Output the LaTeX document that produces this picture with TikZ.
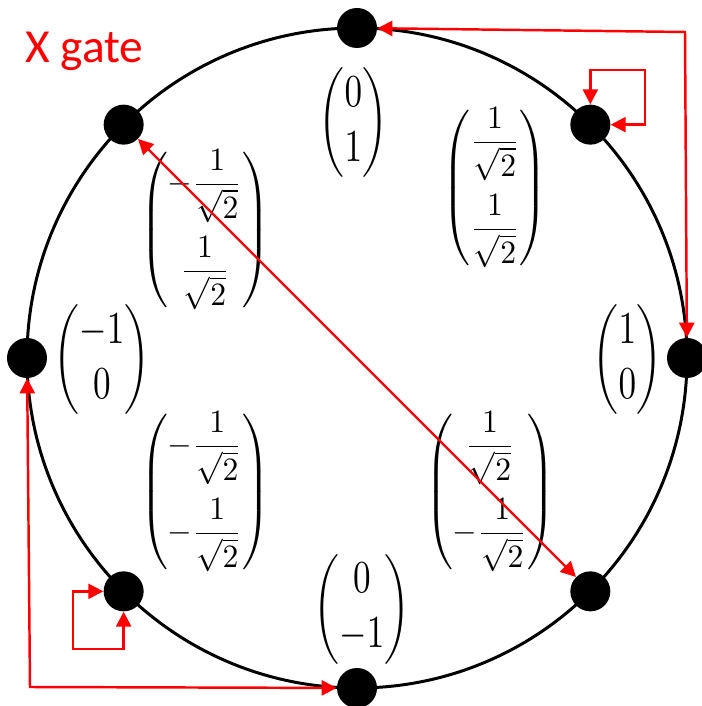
\documentclass[tikz,border=0pt]{standalone}
\usepackage{amsmath}
\usepackage{fontspec}
\newfontfamily\gatefont{Carlito}
\usetikzlibrary{arrows.meta, positioning, calc}

\begin{document}
\begin{tikzpicture}[
    dot/.style={circle, fill=black, inner sep=0pt, minimum size=0.8cm},
    ket/.style={xscale=2.0, yscale=2.6, inner sep=0pt},
    fracket/.style={xscale=1.8, yscale=1.85, inner sep=0pt},
    gate/.style={draw=red, line width=1.4pt, {Triangle[length=0.3cm, width=0.3cm]}-{Triangle[length=0.3cm, width=0.3cm]}}
]
    \useasboundingbox (-7.14,-6.96) rectangle (6.90,7.16);

    \draw[line width=1.7pt] (0,0) circle (6.6);

    \node[dot] (dN) at (90:6.6) {};
    \node[dot] (dNE) at (45:6.6) {};
    \node[dot] (dE) at (0:6.6) {};
    \node[dot] (dSE) at (-45:6.6) {};
    \node[dot] (dS) at (-90:6.6) {};
    \node[dot] (dSW) at (-135:6.6) {};
    \node[dot] (dW) at (180:6.6) {};
    \node[dot] (dNW) at (135:6.6) {};

    \node[ket] (vN) at (-0.07, 4.7) {$\begin{pmatrix}0\\1\end{pmatrix}$};
    \node[ket] (vE) at (5.41, -0.04) {$\begin{pmatrix}1\\0\end{pmatrix}$};
    \node[ket] (vW) at (-5.1, -0.04) {$\begin{pmatrix}-1\\0\end{pmatrix}$};
    \node[ket] (vS) at (0.1, -5.02) {$\begin{pmatrix}0\\-1\end{pmatrix}$};
    \node[fracket] (vNE) at (2.76, 3.4) {$\begin{pmatrix}\dfrac{1}{\sqrt{2}}\\[10pt]\dfrac{1}{\sqrt{2}}\end{pmatrix}$};
    \node[fracket] (vNW) at (-3.04, 2.56) {$\begin{pmatrix}-\dfrac{1}{\sqrt{2}}\\[10pt]\dfrac{1}{\sqrt{2}}\end{pmatrix}$};
    \node[fracket] (vSW) at (-3.04, -2.68) {$\begin{pmatrix}-\dfrac{1}{\sqrt{2}}\\[10pt]-\dfrac{1}{\sqrt{2}}\end{pmatrix}$};
    \node[fracket] (vSE) at (2.66, -2.68) {$\begin{pmatrix}\dfrac{1}{\sqrt{2}}\\[10pt]-\dfrac{1}{\sqrt{2}}\end{pmatrix}$};

    \node[anchor=base west, red, font=\gatefont\fontsize{27}{32}\selectfont] (title) at (-6.76, 5.9) {X gate};

    % X swaps these pairs
    \coordinate (cNE) at (6.56, 6.52);
    \coordinate (cSW) at (-6.54, -6.58);
    \coordinate (lNE) at (5.76, 5.76);
    \coordinate (lSW) at (-5.68, -5.82);

    \draw[gate] (dN) -- (cNE) -- (dE);
    \draw[gate] (dW) -- (cSW) -- (dS);
    \draw[gate] (dNW) -- (dSE);
    \draw[gate] (dNE.north) |- (lNE) |- (dNE.east);
    \draw[gate] (dSW.west) -| (lSW) -| (dSW.south);
\end{tikzpicture}
\end{document}
